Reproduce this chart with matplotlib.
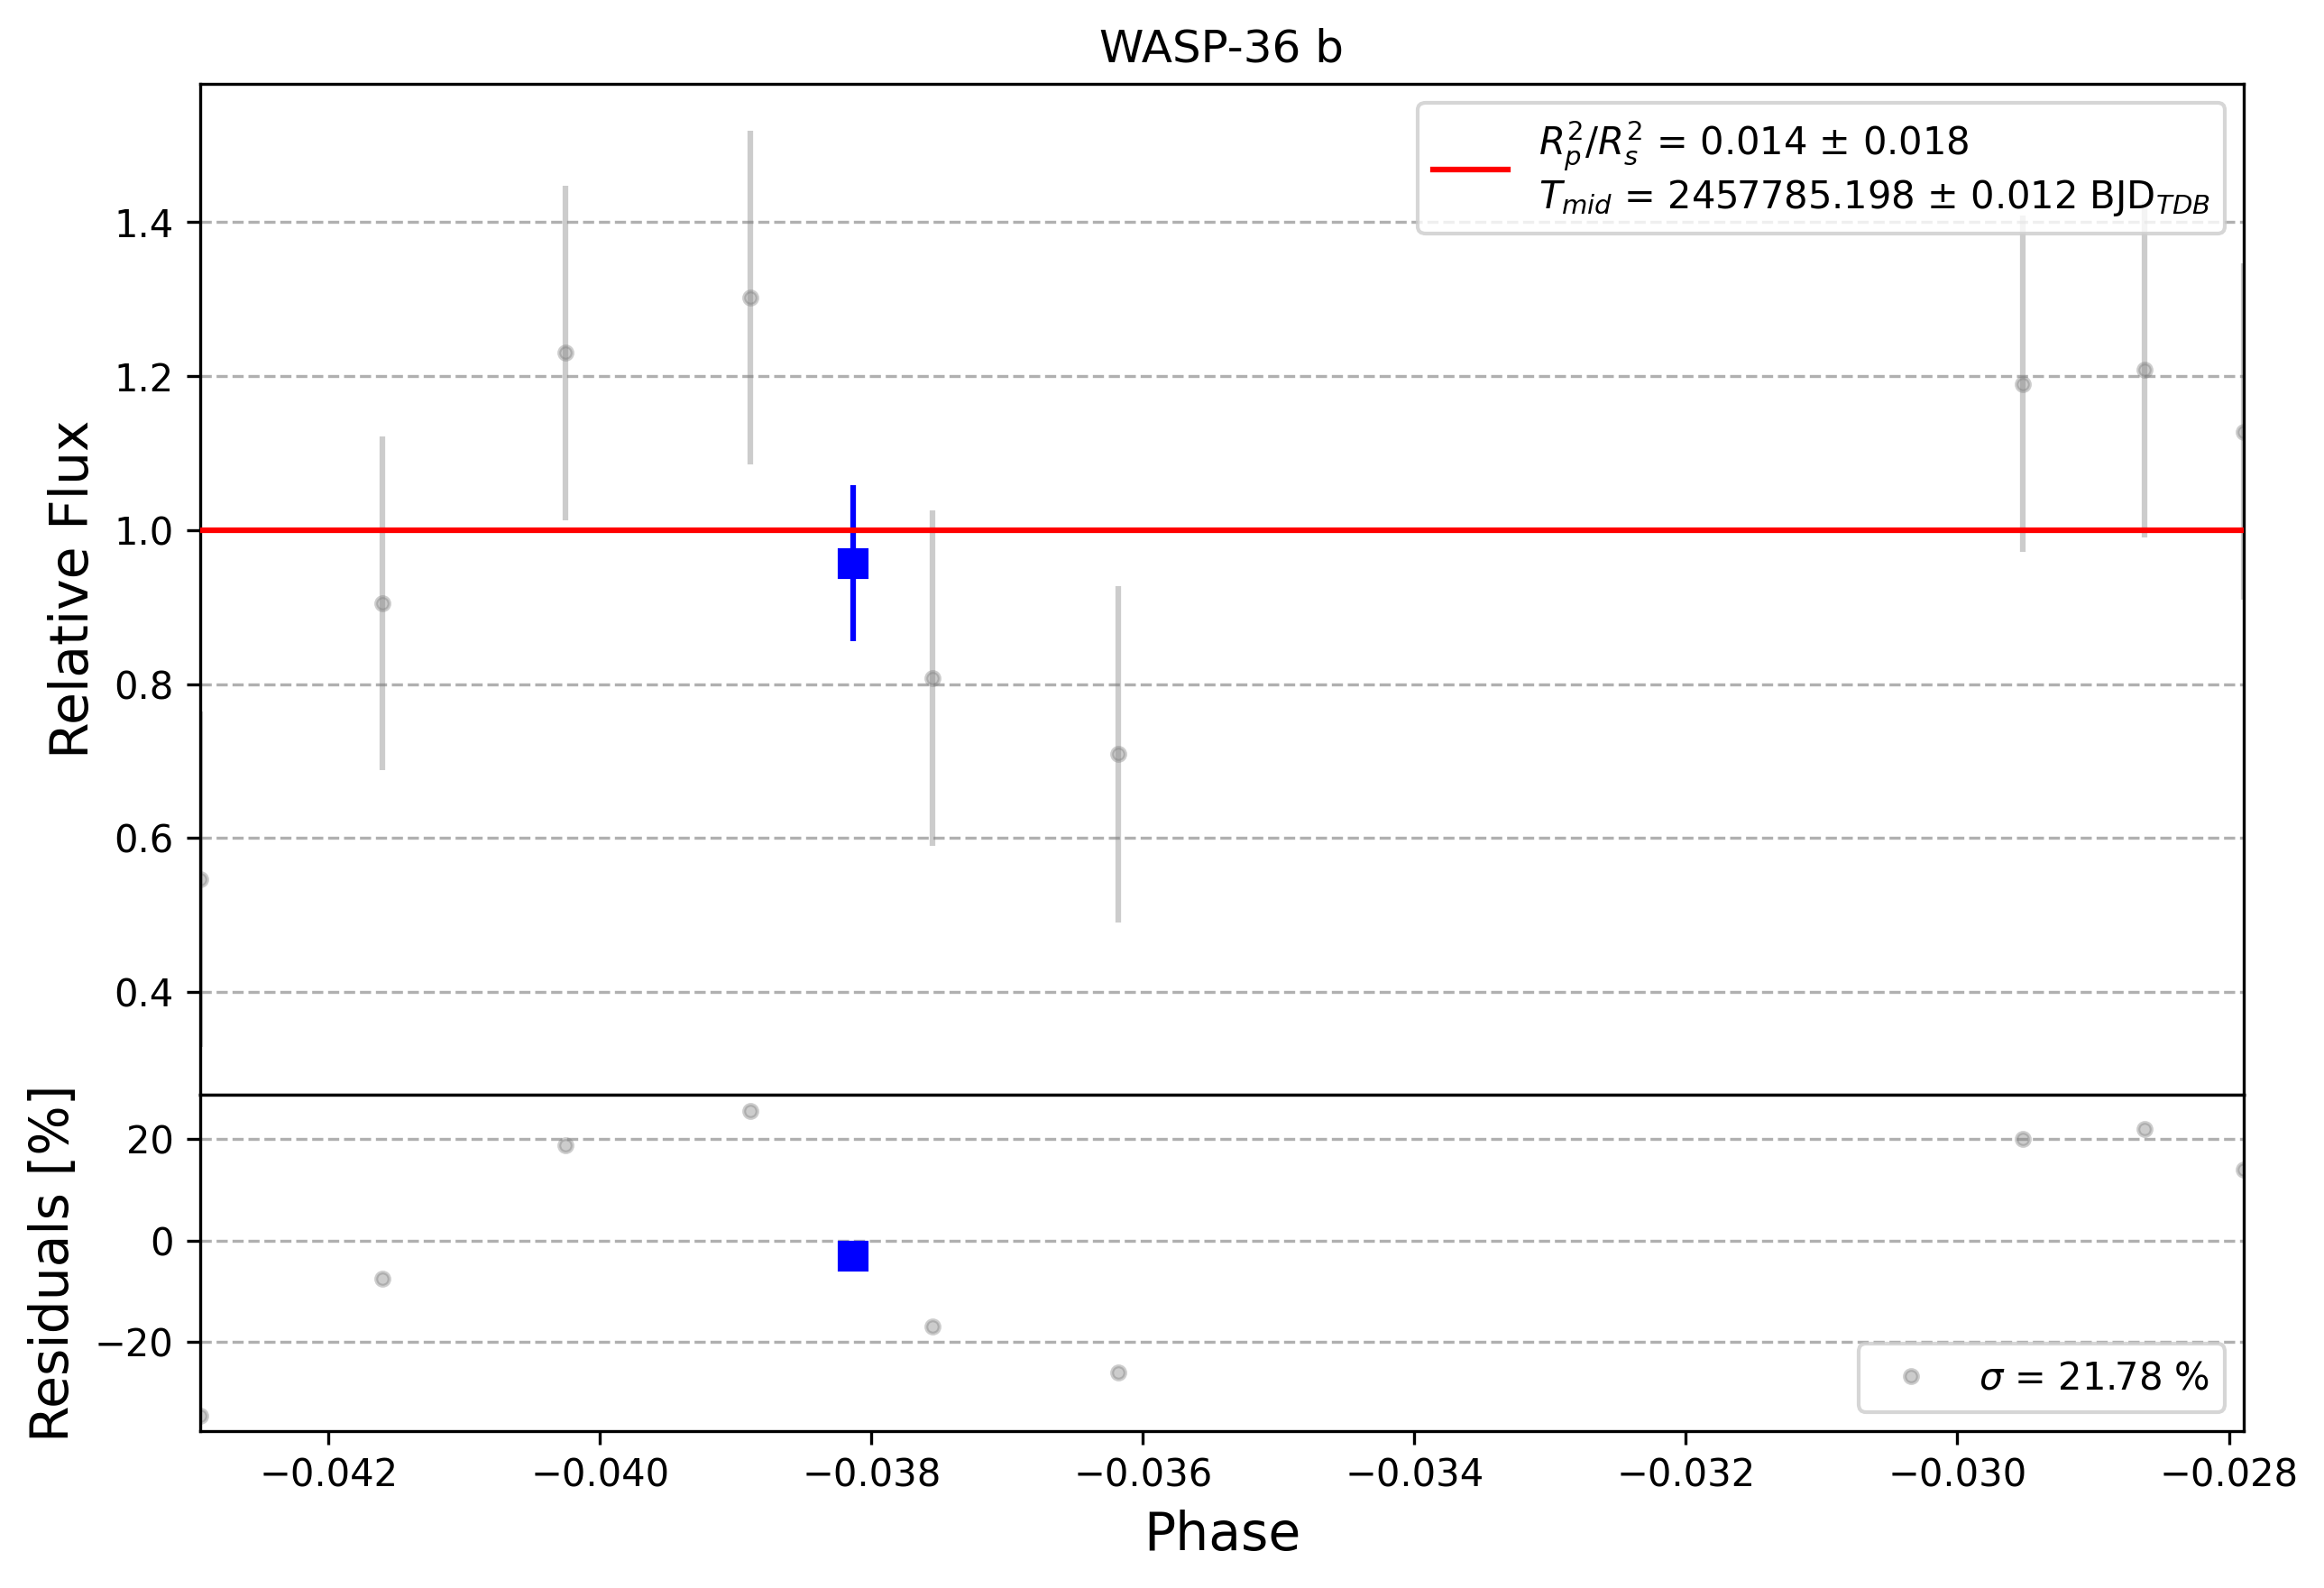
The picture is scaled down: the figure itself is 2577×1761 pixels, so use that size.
import numpy as np
import matplotlib.pyplot as plt

# phase-folded light curve of WASP-36 b
phase = [-0.042945, -0.041601, -0.040257, -0.038892, -0.037548, -0.036183,
         -0.029518, -0.028622, -0.027891]
flux = [0.547, 0.905, 1.230, 1.302, 0.808, 0.709, 1.190, 1.208, 1.128]
flux_err = [0.218, 0.217, 0.217, 0.217, 0.218, 0.218, 0.218, 0.218, 0.218]
resid = [-34.5, -7.5, 18.8, 25.5, -17.0, -26.0, 20.0, 22.0, 14.0]
model_flux = [1.0, 1.0, 1.0, 1.0, 1.0, 1.0, 1.0, 1.0, 1.0]

# binned point
bin_phase = [-0.038138]
bin_flux = [0.957]
bin_err = [0.101]
bin_resid = [-3.0]

fit_label = (r"$R^2_p/R^2_s$ = 0.014 ± 0.018" + "\n"
             + r"$T_{mid}$ = 2457785.198 ± 0.012 BJD$_{TDB}$")
std_label = r"$\sigma$ = 21.78 %"

fig = plt.figure(figsize=(8.593, 5.87), dpi=300)
ax = fig.add_axes([0.0861, 0.3107, 0.879, 0.6363])
ax2 = fig.add_axes([0.0861, 0.099, 0.879, 0.2117])

ax.errorbar(phase, flux, yerr=flux_err, fmt='o', color='gray', alpha=0.4,
            ms=3.5, lw=1.5, zorder=2)
ax.errorbar(bin_phase, bin_flux, yerr=bin_err, fmt='s', color='blue',
            ms=7, lw=1.5, zorder=3)
ax.plot(phase, model_flux, 'r-', lw=1.5, label=fit_label, zorder=4)
ax.set_xlim(min(phase), max(phase))
ax.set_ylim(0.267, 1.579)
ax.set_ylabel('Relative Flux', fontsize=14)
ax.set_title('WASP-36 b', fontsize=12)
ax.grid(True, axis='y', ls='--')
ax.tick_params(axis='x', bottom=False, labelbottom=False)
ax.legend(loc='upper right')

ax2.plot(phase, resid, 'o', color='gray', alpha=0.4, ms=3.5, label=std_label)
ax2.plot(bin_phase, bin_resid, 's', color='blue', ms=7)
ax2.set_xlim(min(phase), max(phase))
ax2.set_ylim(-37.5, 28.8)
ax2.set_xticks(np.arange(-0.042, -0.0279, 0.002))
ax2.set_ylabel('Residuals [%]', fontsize=14)
ax2.set_xlabel('Phase', fontsize=14)
ax2.grid(True, axis='y', ls='--')
ax2.legend(loc='lower right')

plt.savefig('out.png', dpi=300)
